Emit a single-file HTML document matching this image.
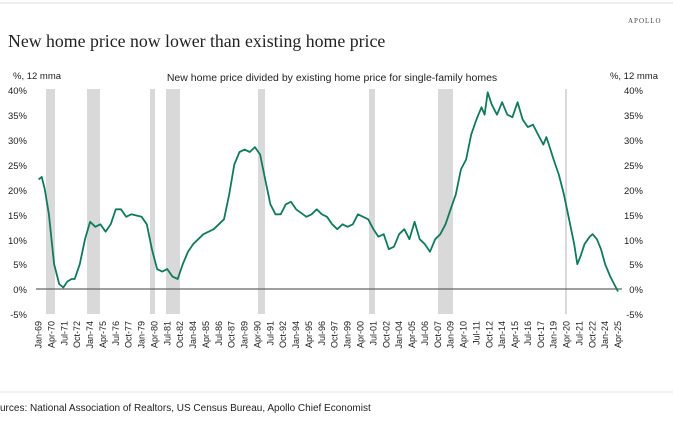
<!DOCTYPE html>
<html><head><meta charset="utf-8"><style>
body{margin:0;background:#fff;}
svg{display:block;font-family:"Liberation Sans",sans-serif;}
</style></head><body>
<svg width="673" height="421" viewBox="0 0 673 421">
<line x1="0" y1="3" x2="673" y2="3" stroke="#eee" stroke-width="2"/>
<text x="628" y="23" font-family="Liberation Serif,serif" font-size="7" letter-spacing="1" fill="#444">APOLLO</text>
<text x="8" y="47" font-family="Liberation Serif,serif" font-size="17.8" fill="#222">New home price now lower than existing home price</text>
<text x="13" y="79" font-size="9.5" fill="#222">%, 12 mma</text>
<text x="658" y="79" font-size="9.5" fill="#222" text-anchor="end">%, 12 mma</text>
<text x="332" y="81" font-size="10.5" fill="#222" text-anchor="middle">New home price divided by existing home price for single-family homes</text>
<g fill="#d9d9d9">
<rect x="46" y="89" width="9" height="225"/><rect x="87" y="89" width="13" height="225"/>
<rect x="150" y="89" width="5" height="225"/><rect x="166" y="89" width="14" height="225"/>
<rect x="258" y="89" width="7" height="225"/><rect x="369" y="89" width="6" height="225"/>
<rect x="438" y="89" width="15" height="225"/><rect x="565" y="89" width="2" height="225"/>
</g>
<g font-size="9.5" fill="#222">
<g text-anchor="end">
<text x="27" y="94">40%</text><text x="27" y="119">35%</text><text x="27" y="144">30%</text><text x="27" y="169">25%</text><text x="27" y="194">20%</text><text x="27" y="219">15%</text><text x="27" y="244">10%</text><text x="27" y="268">5%</text><text x="27" y="293">0%</text><text x="27" y="318">-5%</text>
<text x="643" y="94">40%</text><text x="643" y="119">35%</text><text x="643" y="144">30%</text><text x="643" y="169">25%</text><text x="643" y="194">20%</text><text x="643" y="219">15%</text><text x="643" y="244">10%</text><text x="643" y="268">5%</text><text x="643" y="293">0%</text><text x="643" y="318">-5%</text>
</g></g>
<line x1="36" y1="289" x2="622" y2="289" stroke="#666" stroke-width="1.2"/>
<polyline id="ln" fill="none" stroke="#117a5e" stroke-width="1.8" stroke-linejoin="round"/>
<g id="xl" font-size="9" fill="#222" text-anchor="end"></g>
<line x1="0" y1="392" x2="673" y2="392" stroke="#eee" stroke-width="1.5"/>
<text x="0" y="411" font-size="10" fill="#222">urces: National Association of Realtors, US Census Bureau, Apollo Chief Economist</text>
</svg>
<script>
var d=[[1969,22],[1969.3,22.5],[1969.6,20],[1970,15],[1970.5,5],[1971,1],[1971.4,0.3],[1971.8,1.5],[1972.2,2],[1972.5,2],[1973,5],[1973.5,10],[1974,13.5],[1974.5,12.5],[1975,13],[1975.5,11.5],[1976,13],[1976.5,16],[1977,16],[1977.5,14.5],[1978,15],[1979,14.5],[1979.5,13],[1980,8],[1980.5,4],[1981,3.5],[1981.5,4],[1982,2.5],[1982.5,2],[1983,5],[1983.5,7.5],[1984,9],[1985,11],[1986,12],[1987,14],[1987.5,19],[1988,25],[1988.5,27.5],[1989,28],[1989.5,27.5],[1990,28.5],[1990.5,27],[1991,22],[1991.5,17],[1992,15],[1992.5,15],[1993,17],[1993.5,17.5],[1994,16],[1995,14.5],[1995.5,15],[1996,16],[1996.5,15],[1997,14.5],[1997.5,13],[1998,12],[1998.5,13],[1999,12.5],[1999.5,13],[2000,15],[2000.5,14.5],[2001,14],[2001.5,12],[2002,10.5],[2002.5,11],[2003,8],[2003.5,8.5],[2004,11],[2004.5,12],[2005,10],[2005.5,13.5],[2006,10],[2006.5,9],[2007,7.5],[2007.5,10],[2008,11],[2008.5,13],[2009,16],[2009.5,19],[2010,24],[2010.5,26],[2011,31],[2011.5,34],[2012,36.5],[2012.3,35],[2012.6,39.5],[2013,37],[2013.5,35],[2014,37.5],[2014.5,35],[2015,34.5],[2015.5,37.5],[2016,34],[2016.5,32.5],[2017,33],[2017.5,31],[2018,29],[2018.3,30.5],[2018.7,28],[2019,26],[2019.5,23],[2020,19],[2020.5,14],[2021,9],[2021.3,5],[2021.6,6.5],[2022,9],[2022.5,10.5],[2022.8,11],[2023.2,10],[2023.6,8],[2024,5],[2024.5,2.5],[2025,0.5],[2025.25,-0.5]];
var p=[];for(var i=0;i<d.length;i++){var a=d[i];p.push((38.6+(a[0]-1969)*10.3).toFixed(1)+","+(289-a[1]*4.98).toFixed(1));}
document.getElementById("ln").setAttribute("points",p.join(" "));
var L="Jan-69 Apr-70 Jul-71 Oct-72 Jan-74 Apr-75 Jul-76 Oct-77 Jan-79 Apr-80 Jul-81 Oct-82 Jan-84 Apr-85 Jul-86 Oct-87 Jan-89 Apr-90 Jul-91 Oct-92 Jan-94 Apr-95 Jul-96 Oct-97 Jan-99 Apr-00 Jul-01 Oct-02 Jan-04 Apr-05 Jul-06 Oct-07 Jan-09 Apr-10 Jul-11 Oct-12 Jan-14 Apr-15 Jul-16 Oct-17 Jan-19 Apr-20 Jul-21 Oct-22 Jan-24 Apr-25".split(" ");
var g=document.getElementById("xl"),h="";
for(var j=0;j<L.length;j++){var x=38.6+j*12.876+3;h+='<text transform="translate('+x.toFixed(1)+',321) rotate(-90)">'+L[j]+'</text>';}
g.innerHTML=h;
</script>
</body></html>
